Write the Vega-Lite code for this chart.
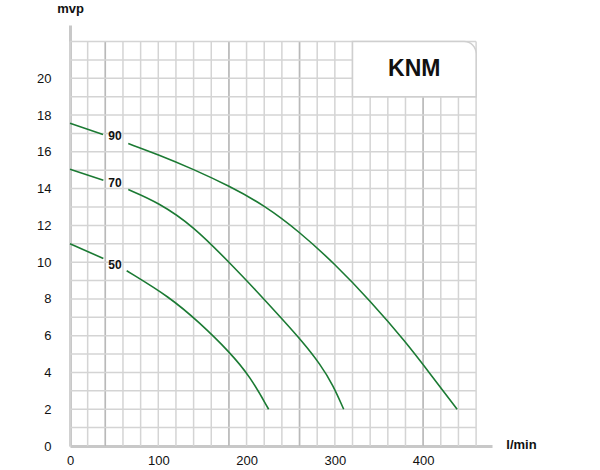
{
  "$schema": "https://vega.github.io/schema/vega-lite/v6.json",
  "width": 422,
  "height": 421,
  "autosize": "none",
  "padding": {"left": 70, "top": 25, "right": 108, "bottom": 24},
  "background": "white",
  "config": {"view": {"stroke": null}, "font": "Liberation Sans"},
  "datasets": {
    "vgrid": [{"x":0},{"x":20},{"x":40},{"x":60},{"x":80},{"x":100},{"x":120},{"x":140},{"x":160},{"x":180},{"x":200},{"x":220},{"x":240},{"x":260},{"x":280},{"x":300},{"x":320},{"x":340},{"x":360},{"x":380},{"x":400},{"x":420},{"x":440},{"x":460}],
    "vmajor": [{"x":40},{"x":180},{"x":260},{"x":400}],
    "hgrid": [{"y":1},{"y":2},{"y":3},{"y":4},{"y":5},{"y":6},{"y":7},{"y":8},{"y":9},{"y":10},{"y":11},{"y":12},{"y":13},{"y":14},{"y":15},{"y":16},{"y":17},{"y":18},{"y":19},{"y":20},{"y":21},{"y":22}],
    "curves": [
      {"seg":"90a","q":0,"h":17.55},{"seg":"90a","q":37.4,"h":16.94},
      {"seg":"90b","q":66,"h":16.45},{"seg":"90b","q":100,"h":15.85},{"seg":"90b","q":140,"h":15.05},{"seg":"90b","q":180,"h":14.15},{"seg":"90b","q":220,"h":13.1},{"seg":"90b","q":260,"h":11.65},{"seg":"90b","q":300,"h":9.9},{"seg":"90b","q":340,"h":7.9},{"seg":"90b","q":380,"h":5.68},{"seg":"90b","q":410,"h":3.8},{"seg":"90b","q":438.5,"h":2},
      {"seg":"70a","q":0,"h":15.05},{"seg":"70a","q":37.8,"h":14.46},
      {"seg":"70b","q":66,"h":13.95},{"seg":"70b","q":100,"h":13.25},{"seg":"70b","q":140,"h":11.95},{"seg":"70b","q":180,"h":10.0},{"seg":"70b","q":210,"h":8.5},{"seg":"70b","q":240,"h":6.92},{"seg":"70b","q":262,"h":5.75},{"seg":"70b","q":284,"h":4.42},{"seg":"70b","q":298,"h":3.3},{"seg":"70b","q":310,"h":2},
      {"seg":"50a","q":0,"h":11},{"seg":"50a","q":37.8,"h":10.2},
      {"seg":"50b","q":64.2,"h":9.53},{"seg":"50b","q":113,"h":8.1},{"seg":"50b","q":147,"h":6.7},{"seg":"50b","q":181,"h":5.1},{"seg":"50b","q":204,"h":3.78},{"seg":"50b","q":225,"h":2}
    ],
    "labels": [{"q":51,"h":16.85,"t":"90"},{"q":51,"h":14.3,"t":"70"},{"q":51,"h":9.84,"t":"50"}]
  },
  "layer": [
    {
      "data": {"name": "vgrid"},
      "mark": {"type": "rule", "color": "#d4d4d4", "strokeWidth": 1.5},
      "encoding": {
        "x": {"field": "x", "type": "quantitative", "scale": {"domain": [0, 478], "nice": false, "zero": false},
          "axis": {"values": [0,100,200,300,400], "ticks": false, "grid": false, "domainColor": "#c8c8c8", "domainWidth": 3, "labelFont": "Liberation Sans", "labelFontSize": 13, "labelColor": "#111", "labelPadding": 8, "labelFlush": false,
            "title": "l/min", "titleFont": "Liberation Sans", "titleFontSize": 13, "titleFontWeight": "bold", "titleColor": "#111", "titleAnchor": null, "titleAlign": "center", "titleBaseline": "middle", "titleX": 451, "titleY": -2}},
        "y": {"datum": 0, "type": "quantitative", "scale": {"domain": [0, 22.9], "nice": false, "zero": false},
          "axis": {"values": [0,2,4,6,8,10,12,14,16,18,20], "ticks": false, "grid": false, "domainColor": "#c8c8c8", "domainWidth": 3, "labelFont": "Liberation Sans", "labelFontSize": 13, "labelColor": "#111", "labelPadding": 19,
            "title": "mvp", "titleFont": "Liberation Sans", "titleFontSize": 13, "titleFontWeight": "bold", "titleColor": "#111", "titleAngle": 0, "titleAnchor": null, "titleAlign": "center", "titleBaseline": "middle", "titleX": 0, "titleY": -17}},
        "y2": {"datum": 22}
      }
    },
    {
      "data": {"name": "vmajor"},
      "mark": {"type": "rule", "color": "#b9b9b9", "strokeWidth": 1.5},
      "encoding": {
        "x": {"field": "x", "type": "quantitative"},
        "y": {"datum": 0, "type": "quantitative"},
        "y2": {"datum": 22}
      }
    },
    {
      "data": {"name": "hgrid"},
      "mark": {"type": "rule", "color": "#d4d4d4", "strokeWidth": 1.5},
      "encoding": {
        "y": {"field": "y", "type": "quantitative"},
        "x": {"datum": 0, "type": "quantitative"},
        "x2": {"datum": 460}
      }
    },
    {
      "data": {"values": [{"a": 320, "b": 460, "c": 19, "d": 22}]},
      "mark": {"type": "rect", "fill": "white", "stroke": "#cfcfcf", "strokeWidth": 1.5, "cornerRadiusTopRight": 12},
      "encoding": {
        "x": {"field": "a", "type": "quantitative"},
        "x2": {"field": "b"},
        "y": {"field": "c", "type": "quantitative"},
        "y2": {"field": "d"}
      }
    },
    {
      "data": {"values": [{"q": 390, "h": 20.5, "t": "KNM"}]},
      "mark": {"type": "text", "font": "Liberation Sans", "fontSize": 23, "fontWeight": "bold", "color": "#111", "baseline": "middle", "align": "center"},
      "encoding": {
        "x": {"field": "q", "type": "quantitative"},
        "y": {"field": "h", "type": "quantitative"},
        "text": {"field": "t"}
      }
    },
    {
      "data": {"name": "curves"},
      "mark": {"type": "line", "color": "#1b7a33", "strokeWidth": 1.6, "interpolate": "basis"},
      "encoding": {
        "x": {"field": "q", "type": "quantitative"},
        "y": {"field": "h", "type": "quantitative"},
        "detail": {"field": "seg"}
      }
    },
    {
      "data": {"name": "labels"},
      "mark": {"type": "text", "font": "Liberation Sans", "fontSize": 12, "fontWeight": "bold", "color": "#111", "baseline": "middle", "align": "center"},
      "encoding": {
        "x": {"field": "q", "type": "quantitative"},
        "y": {"field": "h", "type": "quantitative"},
        "text": {"field": "t"}
      }
    }
  ]
}
